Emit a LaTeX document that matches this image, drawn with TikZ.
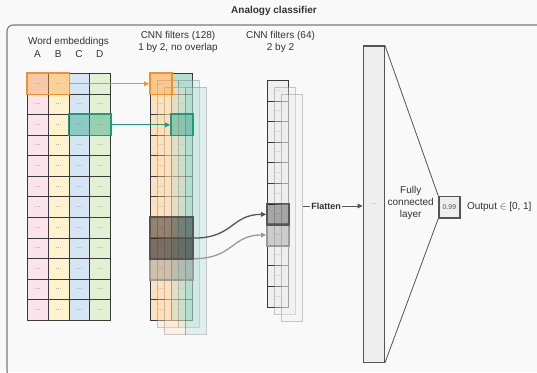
\documentclass[tikz,border=0pt]{standalone}
\usepackage{fontspec}
\setmainfont{Liberation Sans}
\usetikzlibrary{arrows.meta,fit}

\definecolor{bg}{HTML}{F9F9F9}
\definecolor{ink}{HTML}{333333}
\definecolor{frame}{HTML}{7A7A7A}
\definecolor{gridc}{HTML}{3A3A3A}
\definecolor{dotc}{HTML}{808080}
\definecolor{colA}{HTML}{FBE3EC}
\definecolor{colB}{HTML}{FFF3CF}
\definecolor{colC}{HTML}{D5E5F3}
\definecolor{colD}{HTML}{E3F1D3}
\definecolor{filtO}{HTML}{FFE1BD}
\definecolor{filtT}{HTML}{B3DFD3}
\definecolor{hlOrange}{HTML}{F0922A}
\definecolor{hlOrangeFill}{HTML}{F5A04A}
\definecolor{hlTeal}{HTML}{1E9A7A}
\definecolor{hlTealFill}{HTML}{2A9D80}
\definecolor{fcfill}{HTML}{EEEEEE}
\definecolor{edge}{HTML}{555555}
\definecolor{softedge}{HTML}{9A9A9A}

\begin{document}
\begin{tikzpicture}[x=1pt,y=-1pt,
  font=\fontsize{10}{12}\selectfont, text=ink,
  dots/.style={font=\fontsize{7}{8}\selectfont, text=dotc},
  cell/.style={draw=gridc, line width=0.9pt, inner sep=0pt, anchor=north west,
    minimum height=20.58pt, dots},
  ecell/.style={cell, minimum width=20.75pt},
  fcell/.style={cell, minimum width=21pt},
  gcell/.style={cell, minimum width=21pt, minimum height=20.6pt, fill=fcfill},
  ghost/.style={inner sep=0pt, anchor=north west, minimum width=21pt,
    line width=0.8pt, draw=edge, draw opacity=0.3, fill opacity=0.35},
  hl/.style={inner sep=0pt, line width=1.6pt},
  tip/.style={-{Triangle[length=5pt,width=4.5pt]}},
  head/.style={align=center, font=\fontsize{10}{12}\selectfont},
]

% canvas
\useasboundingbox (0,0) rectangle (537,372);
\fill[bg] (0,0) rectangle (537,372);

% title and frame
\node[font=\bfseries\fontsize{10}{12}\selectfont] (title) at (274,11) {Analogy classifier};
\begin{scope}
  \clip (0,0) rectangle (537,372);
  \draw[frame, line width=1.1pt, rounded corners=6pt] (7,25) rectangle (560,377);
\end{scope}

% ---------- word embeddings ----------
\node[head] (embhead) at (68.5,42) {Word embeddings};
\foreach \c/\lab in {0/A,1/B,2/C,3/D}
  \node[head] (lab\lab) at ({37.4+20.75*\c},54) {\lab};
\foreach \c/\col in {0/colA,1/colB,2/colC,3/colD}
  \foreach \r in {0,...,11}
    \node[ecell, fill=\col] (e-\r-\c) at ({27+20.75*\c},{73+20.58*\r}) {...};

% ---------- CNN filters (128) ----------
\node[head] (f1head) at (178,42) {CNN filters (128)\\1 by 2, no overlap};
\foreach \c/\col in {0/filtO,1/filtT}
  \foreach \r in {0,...,11}
    \node[fcell, fill=\col] (f-\r-\c) at ({150+21*\c},{73+20.58*\r}) {...};
\foreach \k in {1,2} {
  \node[ghost, fill=filtO, minimum height=247pt] (fo\k) at ({150+7*\k},{73+7*\k}) {};
  \node[ghost, fill=filtT, minimum height=247pt] (ft\k) at ({171+7*\k},{73+7*\k}) {};
}

% ---------- CNN filters (64) ----------
\node[head] (f2head) at (280.5,42) {CNN filters (64)\\2 by 2};
\foreach \r in {0,...,10}
  \node[gcell] (g-\r) at (267,{80+20.6*\r}) {...};
\foreach \k in {1,2}
  \node[ghost, fill=fcfill, minimum height=226.6pt] (gc\k) at ({267+7*\k},{80+7*\k}) {};

% highlighted windows
\node[hl, draw=hlOrange, fill=hlOrangeFill, fill opacity=0.4, fit=(e-0-0)(e-0-1)] (wAB) {};
\node[hl, draw=hlTeal, fill=hlTealFill, fill opacity=0.4, fit=(e-2-2)(e-2-3)] (wCD) {};
\node[hl, draw=hlOrange, fill=hlOrangeFill, fill opacity=0.4, fit=(f-0-0)] (fAB) {};
\node[hl, draw=hlTeal, fill=hlTealFill, fill opacity=0.4, fit=(f-2-1)] (fCD) {};
\node[hl, draw=softedge, fill=gray, fill opacity=0.35, fit=(f-8-0)(f-9-1)] (lt) {};
\node[hl, draw=edge, fill=black, fill opacity=0.42, fit=(f-7-0)(f-8-1)] (dk) {};
\node[hl, draw=softedge, fill=gray, fill opacity=0.3, fit=(g-7)] (gl) {};
\node[hl, draw=edge, fill=black, fill opacity=0.3, fit=(g-6)] (gd) {};

% ---------- fully connected layer and output ----------
\node[draw=edge, line width=1.2pt, fill=fcfill, anchor=north west, inner sep=0pt,
  minimum width=21pt, minimum height=316.4pt, dots] (fc) at (362.7,45.3) {...};
\node[draw=edge, line width=1.2pt, fill=fcfill, anchor=north west, inner sep=0pt,
  minimum width=21pt, minimum height=21.3pt, font=\fontsize{7}{8}\selectfont,
  text=edge] (out) at (438.3,196) {0.99};
\draw[edge, line width=0.8pt] (fc.north east) -- (out.north west)
  (fc.south east) -- (out.south west);
\node[head] (fclab) at (410.7,202.5) {Fully\\connected\\layer};
\node[anchor=west, xshift=3pt] (outlab) at (out.east) {Output $\in$ [0, 1]};

% ---------- connectors ----------
\draw[tip, hlOrange, line width=1pt] (wAB.east) -- (fAB.west);
\draw[tip, hlTeal, line width=1pt] (wCD.east) -- (fCD.west);
\draw[tip, edge, line width=1.3pt] (dk.east) .. controls +(40,0) and +(-35,0) .. (gd.west);
\draw[tip, softedge, line width=1.3pt] (lt.east) .. controls +(40,0) and +(-35,0) .. (gl.west);

\coordinate (flatpos) at (326,206);
\draw[tip, edge, line width=1pt] (gc2.east |- flatpos) -- (fc.west |- flatpos);
\node[fill=bg, inner sep=1pt, font=\bfseries\fontsize{9}{10}\selectfont] (flat) at (flatpos) {Flatten};

\end{tikzpicture}
\end{document}
